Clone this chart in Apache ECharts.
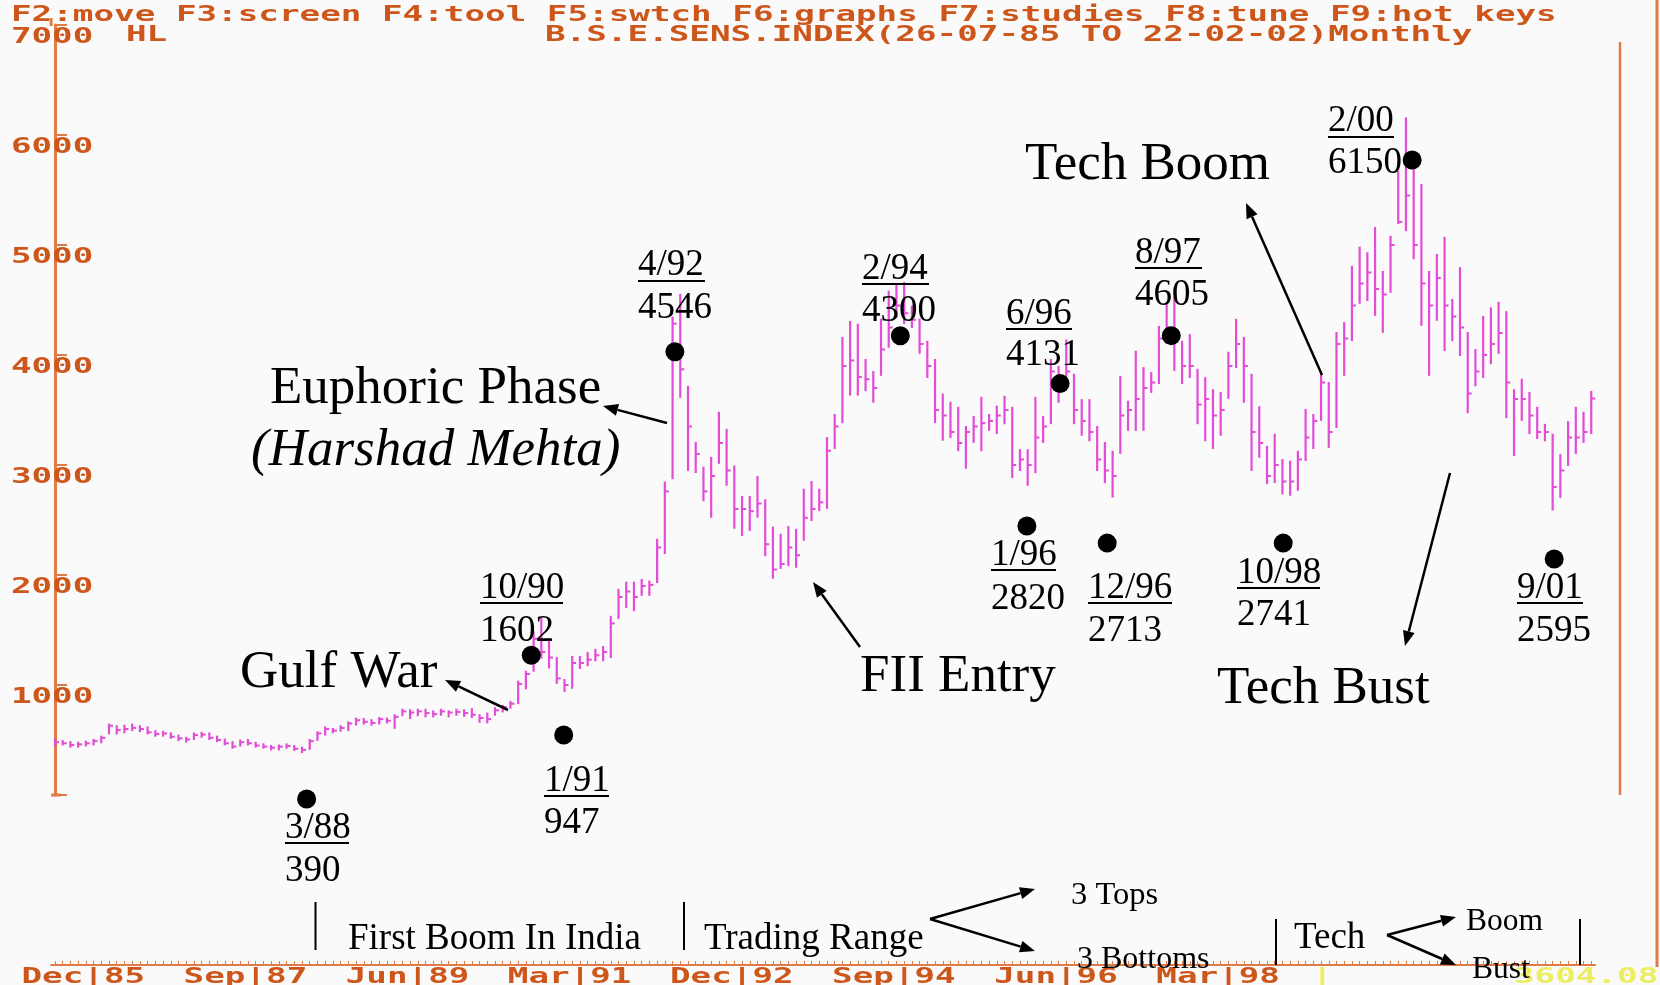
<!DOCTYPE html>
<html><head><meta charset="utf-8">
<script src="https://cdn.jsdelivr.net/npm/echarts@6/dist/echarts.min.js"></script>
<style>html,body{margin:0;padding:0;background:#fafafa;}#c{width:1660px;height:985px;}</style>
</head><body><div id="c"></div>
<script>
// Monthly B.S.E. Sensex, Jul 1985 .. Feb 2002 (index 0 = Jul 1985)
const highs = [510,490,480,475,485,500,530,640,625,630,640,625,615,580,575,560,540,520,560,565,
560,530,505,480,495,500,475,460,445,450,460,445,430,500,570,615,600,625,660,695,
690,680,700,695,725,775,770,775,775,760,775,760,775,770,780,725,740,790,810,845,
1030,1120,1480,1602,1410,1245,1045,1255,1255,1290,1320,1345,1620,1865,1930,1930,1955,1940,2320,2840,
4340,4546,3710,3200,2975,3065,3475,3320,2985,2710,2710,2890,2680,2430,2365,2435,2410,2775,2845,2775,
3245,3455,4155,4300,4275,3955,3845,4320,4575,4635,4655,4440,4320,4120,3955,3640,3565,3520,3345,3435,
3610,3455,3530,3620,3520,3135,3135,3610,3435,3955,3890,4131,3820,3590,3590,3345,3200,3120,3800,3575,
4030,3880,3835,4255,4475,4605,4120,4180,3865,3790,3680,3655,4020,4320,4155,3820,3525,3165,3275,3045,
3030,3120,3500,3455,3820,3745,4200,4290,4800,4975,4925,5155,4755,5075,5665,6150,5700,5545,4755,4910,
5065,4500,4790,4200,4045,4345,4425,4475,4390,3680,3775,3655,3520,3365,3275,3090,3390,3520,3475,3665];
const lows = [450,460,440,440,450,460,480,560,560,570,590,580,560,540,540,520,500,485,510,530,
510,490,460,430,450,460,440,430,415,415,430,410,390,420,500,550,570,585,590,640,
650,640,650,660,610,725,700,725,715,715,730,715,730,720,710,665,660,730,760,795,
835,970,1130,1250,1160,1020,947,975,1155,1180,1225,1225,1255,1610,1710,1680,1820,1820,1936,2200,
2880,3620,2955,2936,2680,2530,3020,2820,2430,2365,2410,2530,2180,1975,2065,2090,2075,2320,2500,2590,
2610,3155,3390,3640,3640,3680,3575,3820,4075,4345,4290,4255,4020,3800,3390,3230,3255,3135,2975,3210,
3135,3320,3290,3380,2890,2955,2820,2935,3210,3380,3575,3800,3380,3275,3225,2955,2845,2713,3110,3320,
3320,3320,3665,3745,4110,3865,3745,3800,3380,3225,3155,3275,3610,3890,3575,2955,3075,2835,2845,2741,
2730,2775,3045,3155,3410,3165,3345,3820,4135,4475,4500,4365,4210,4575,5200,5135,4880,4275,3820,4320,
4045,4135,4000,3480,3725,3800,3925,4020,3435,3090,3410,3290,3245,3225,2595,2710,3000,3110,3210,3290];
const closes = [480,470,455,460,470,490,520,630,590,600,610,600,570,555,560,530,515,505,545,550,
520,500,470,440,480,470,450,440,430,440,445,420,410,490,560,600,585,610,650,680,
665,655,690,675,710,760,750,760,745,735,760,750,755,745,730,700,690,770,800,830,
1010,1100,1420,1300,1250,1060,1000,1200,1200,1230,1270,1300,1560,1800,1850,1800,1900,1910,2250,2760,
4285,3870,3350,3100,2760,2900,3200,2950,2600,2600,2580,2650,2280,2050,2100,2250,2180,2520,2600,2660,
3130,3350,3900,3950,3800,3780,3700,4050,4250,4450,4380,4320,4100,3900,3500,3450,3300,3200,3300,3350,
3380,3400,3450,3500,3000,3050,3000,3250,3350,3850,3700,3850,3500,3400,3300,3050,2950,2900,3450,3500,
3600,3700,3750,4150,4250,4200,3900,3900,3550,3600,3450,3500,3900,4100,3900,3300,3200,2900,3000,2850,
2850,3050,3250,3400,3750,3300,4100,4150,4450,4650,4750,4600,4550,5000,5210,5450,5000,4650,4450,4700,
4450,4350,4250,3650,3850,4000,4100,4200,3750,3600,3600,3450,3300,3300,2800,2950,3250,3250,3300,3604.08];

const yTickValues = [1000,2000,3000,4000,5000,6000,7000];
const yTickLabels = ['1000','2000','3000','4000','5000','6000','7000'];
const xTickMonths = [5,26,47,68,89,110,131,152];
const xTickLabels = ['Dec|85','Sep|87','Jun|89','Mar|91','Dec|92','Sep|94','Jun|96','Mar|98'];
// annotated turning points (month index, value position of marker dot)
const dotMonths = [32.6,61.7,65.9,80.3,109.5,125.9,130.2,136.3,144.6,159.1,175.8,194.2];
const dotValues = [-36,1270,545,4030,4175,2445,3740,2290,4176,2290,5773,2145];

const ORANGE_TXT = '#cd561b';
const ORANGE_LN = '#de7b46';
const BAR = '#e24cd6';
const PIX = 'bold 22px "DejaVu Sans Mono"';
const PIX_SX = 1.556;

const hlData = highs.map((h,i)=>[i,h,lows[i],closes[i]]);

const chart = echarts.init(document.getElementById('c'));
chart.setOption({
  backgroundColor:'#fafafa',
  animation:false,
  grid:{left:51.1, top:25, width:1544, height:770},
  xAxis:[
    {type:'value', min:-0.5, max:199.5, show:false},
    {type:'value', min:-0.5, max:199.5, position:'bottom', offset:170,
     axisLine:{show:true, lineStyle:{color:ORANGE_LN, width:2}},
     axisTick:{show:true, inside:true, length:4, lineStyle:{color:ORANGE_LN,width:1},
       customValues: highs.map((h,i)=>i)},
     axisLabel:{show:false}, splitLine:{show:false}}
  ],
  yAxis:{type:'value', min:0, max:7000, interval:1000,
    axisLine:{show:true, lineStyle:{color:ORANGE_LN, width:3}},
    axisTick:{show:true, inside:true, length:12, lineStyle:{color:ORANGE_LN,width:2}},
    axisLabel:{show:false}, splitLine:{show:false}},
  series:[
    {type:'custom', xAxisIndex:0, data:hlData, encode:{x:0,y:[1,2]},
     renderItem:function(params, api){
       const x=api.value(0);
       const pH=api.coord([x,api.value(1)]), pL=api.coord([x,api.value(2)]), pC=api.coord([x,api.value(3)]);
       return {type:'group', children:[
         {type:'line', shape:{x1:pH[0],y1:pH[1]-1,x2:pL[0],y2:pL[1]+1}, style:{stroke:BAR,lineWidth:2.2}},
         {type:'line', shape:{x1:pC[0],y1:pC[1],x2:pC[0]+4,y2:pC[1]}, style:{stroke:BAR,lineWidth:2}}
       ]};
     }},
    {type:'scatter', xAxisIndex:0, data:dotMonths.map((m,i)=>[m,dotValues[i]]),
     symbolSize:19, itemStyle:{color:'#000', opacity:1}, clip:false, z:5}
  ]
});

function txt(s,x,y,font,fill,opt){
  opt=opt||{};
  return Object.assign({type:'text', x:x, y:y, z:10,
    style:{text:s, font:font, fill:fill, align:opt.align||'left', textAlign:opt.align||'left',
      verticalAlign:'middle', textVerticalAlign:'middle'}}, opt.sx?{scaleX:opt.sx}:{});
}
function line(x1,y1,x2,y2,c,w){return {type:'line',z:10,shape:{x1,y1,x2,y2},style:{stroke:c,lineWidth:w}};}
function arrow(x1,y1,x2,y2){
  const a=Math.atan2(y2-y1,x2-x1), L=15, W=6;
  const bx=x2-L*Math.cos(a), by=y2-L*Math.sin(a);
  const px=-Math.sin(a)*W, py=Math.cos(a)*W;
  return [line(x1,y1,bx,by,'#000',2.5),
    {type:'polygon',z:10,shape:{points:[[x2,y2],[bx+px,by+py],[bx-px,by-py]]},style:{fill:'#000'}}];
}

const g=[];
// header
g.push(txt('F2:move F3:screen F4:tool F5:swtch F6:graphs F7:studies F8:tune F9:hot keys',11,15,PIX,ORANGE_TXT,{sx:PIX_SX}));
g.push(txt('HL',126,35,PIX,ORANGE_TXT,{sx:PIX_SX}));
g.push(txt('B.S.E.SENS.INDEX(26-07-85 TO 22-02-02)Monthly',545,35,PIX,ORANGE_TXT,{sx:PIX_SX}));
// y tick labels
const axX = chart.convertToPixel({xAxisIndex:0}, -0.5);
yTickValues.forEach((v,i)=>{
  const y = chart.convertToPixel({yAxisIndex:0}, v);
  g.push(txt(yTickLabels[i], axX+1, y+12, PIX, ORANGE_TXT, {sx:PIX_SX, align:'center'}));
});
const y0 = chart.convertToPixel({yAxisIndex:0}, 0);
g.push(line(axX, y0, axX+10, y0, ORANGE_LN, 3));
g.push(line(axX, 18, axX, 26, ORANGE_LN, 3));
// right frame
g.push(line(1620, 42, 1620, y0, ORANGE_LN, 2.5));
g.push(line(1657, 0, 1657, 967, ORANGE_LN, 3));
// bottom date labels
xTickMonths.forEach((m,i)=>{
  const x = chart.convertToPixel({xAxisIndex:0}, m);
  g.push(txt(xTickLabels[i], x-3.5*20.6, 977, PIX, ORANGE_TXT, {sx:PIX_SX}));
});
g.push(txt('|',1312,977,PIX,'#eded62',{sx:PIX_SX}));
g.push(txt(closes[closes.length-1].toFixed(2),1514,977,PIX,'#eded62',{sx:PIX_SX}));

// annotations
const SERIF='"Liberation Serif", "Times New Roman", serif';
const D=3.5;
const annos = [
 ['10/90','1602',480,585,603,628,83],
 ['4/92','4546',638,262,281,305,67],
 ['2/94','4300',862,266,284,308,67],
 ['6/96','4131',1006,311,329,352,66],
 ['8/97','4605',1135,250,268,292,67],
 ['2/00','6150',1328,118,137,160,66],
 ['3/88','390',285,825,843,868,64],
 ['1/91','947',544,778,796,820,65],
 ['1/96','2820',991,552,570,596,65],
 ['12/96','2713',1088,585,603,628,84],
 ['10/98','2741',1237,570,588,612,83],
 ['9/01','2595',1517,585,603,628,66]
];
annos.forEach(a=>{
  g.push(txt(a[0],a[2],a[3]+D,'37px '+SERIF,'#000'));
  g.push(line(a[2],a[4],a[2]+a[6],a[4],'#000',2));
  g.push(txt(a[1],a[2],a[5]+D,'37px '+SERIF,'#000'));
});
g.push(txt('Euphoric Phase',270,386+D,'53px '+SERIF,'#000'));
g.push(txt('(Harshad Mehta)',251,448+D,'italic 53px '+SERIF,'#000'));
g.push(txt('Gulf War',240,670+D,'53px '+SERIF,'#000'));
g.push(txt('FII Entry',860,674+D,'53px '+SERIF,'#000'));
g.push(txt('Tech Boom',1025,162+D,'53px '+SERIF,'#000'));
g.push(txt('Tech Bust',1217,686+D,'53px '+SERIF,'#000'));
g.push(...arrow(667,423,603,406));
g.push(...arrow(508,710,445,680));
g.push(...arrow(860,647,813,582));
g.push(...arrow(1322,375,1246,203));
g.push(...arrow(1450,473,1405,646));
// bottom phase band
g.push(line(315.5,902,315.5,950,'#000',2));
g.push(line(684,902,684,950,'#000',2));
g.push(line(1276,919,1276,965,'#000',2));
g.push(line(1580,919,1580,965,'#000',2));
g.push(txt('First Boom In India',348,936+D,'37px '+SERIF,'#000'));
g.push(txt('Trading Range',704,936+D,'37px '+SERIF,'#000'));
g.push(txt('3 Tops',1071,892+D,'32.5px '+SERIF,'#000'));
g.push(txt('3 Bottoms',1077,956+D,'32px '+SERIF,'#000'));
g.push(txt('Tech',1294,935+D,'37px '+SERIF,'#000'));
g.push(txt('Boom',1466,918+D,'31.5px '+SERIF,'#000'));
g.push(txt('Bust',1472,966+D,'31.5px '+SERIF,'#000'));
g.push(...arrow(930,919,1035,889));
g.push(...arrow(930,919,1035,951));
g.push(...arrow(1387,935,1456,917));
g.push(...arrow(1387,935,1456,965));

chart.setOption({graphic:{elements:g}});
</script></body></html>
